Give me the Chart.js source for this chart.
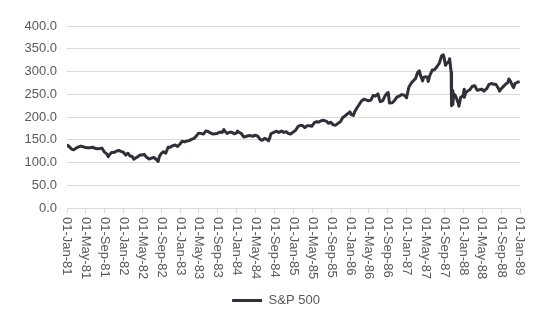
<!DOCTYPE html>
<html>
<head>
<meta charset="utf-8">
<script src="https://cdn.jsdelivr.net/npm/chart.js@4"></script>
<style>
  body { margin: 0; background: #ffffff; }
  #wrap { width: 550px; height: 330px; }
</style>
</head>
<body>
<div id="wrap"><canvas id="spxChart" width="550" height="330"></canvas></div>
<script>
// S&P 500 closes (roughly twice a month)
const dates = [
  '1981-01-02','1981-01-06','1981-01-15','1981-01-30','1981-02-13','1981-02-27','1981-03-13','1981-03-31','1981-04-15','1981-04-30','1981-05-15','1981-05-29','1981-06-15','1981-06-30','1981-07-15','1981-07-31','1981-08-14','1981-08-31','1981-09-15','1981-09-25','1981-09-30','1981-10-15','1981-10-30','1981-11-13','1981-11-30','1981-12-15','1981-12-31',
  '1982-01-15','1982-01-29','1982-02-12','1982-02-26','1982-03-08','1982-03-15','1982-03-31','1982-04-15','1982-04-30','1982-05-14','1982-05-28','1982-06-15','1982-06-30','1982-07-15','1982-07-30','1982-08-12','1982-08-20','1982-08-31','1982-09-15','1982-09-30','1982-10-15','1982-10-29','1982-11-15','1982-11-30','1982-12-15','1982-12-31',
  '1983-01-14','1983-01-31','1983-02-15','1983-02-28','1983-03-15','1983-03-31','1983-04-15','1983-04-29','1983-05-13','1983-05-31','1983-06-15','1983-06-30','1983-07-15','1983-07-29','1983-08-15','1983-08-31','1983-09-15','1983-09-30','1983-10-10','1983-10-14','1983-10-31','1983-11-15','1983-11-30','1983-12-15','1983-12-30',
  '1984-01-06','1984-01-13','1984-01-31','1984-02-15','1984-02-29','1984-03-15','1984-03-30','1984-04-13','1984-04-30','1984-05-15','1984-05-31','1984-06-15','1984-06-29','1984-07-13','1984-07-24','1984-08-01','1984-08-08','1984-08-15','1984-08-31','1984-09-14','1984-09-28','1984-10-15','1984-10-31','1984-11-15','1984-11-30','1984-12-14','1984-12-31',
  '1985-01-15','1985-01-31','1985-02-15','1985-02-28','1985-03-15','1985-03-29','1985-04-15','1985-04-30','1985-05-15','1985-05-31','1985-06-14','1985-06-28','1985-07-15','1985-07-31','1985-08-15','1985-08-30','1985-09-13','1985-09-30','1985-10-15','1985-10-31','1985-11-15','1985-11-29','1985-12-13','1985-12-31',
  '1986-01-08','1986-01-22','1986-01-31','1986-02-14','1986-02-28','1986-03-14','1986-03-31','1986-04-15','1986-04-30','1986-05-15','1986-05-30','1986-06-13','1986-06-30','1986-07-08','1986-07-15','1986-07-31','1986-08-15','1986-08-29','1986-09-04','1986-09-12','1986-09-30','1986-10-15','1986-10-31','1986-11-14','1986-11-28','1986-12-15','1986-12-31',
  '1987-01-15','1987-01-23','1987-01-30','1987-02-13','1987-02-27','1987-03-13','1987-03-24','1987-03-31','1987-04-14','1987-04-20','1987-04-30','1987-05-15','1987-05-20','1987-05-29','1987-06-15','1987-06-30','1987-07-15','1987-07-31','1987-08-14','1987-08-25','1987-08-31','1987-09-08','1987-09-15','1987-09-30','1987-10-05','1987-10-15','1987-10-16','1987-10-19','1987-10-21','1987-10-26','1987-10-30','1987-11-13','1987-11-30','1987-12-04','1987-12-15','1987-12-31',
  '1988-01-07','1988-01-08','1988-01-15','1988-01-29','1988-02-12','1988-02-29','1988-03-15','1988-03-31','1988-04-15','1988-04-29','1988-05-13','1988-05-31','1988-06-15','1988-06-30','1988-07-15','1988-07-29','1988-08-15','1988-08-22','1988-08-31','1988-09-15','1988-09-30','1988-10-14','1988-10-21','1988-10-31','1988-11-15','1988-11-21','1988-11-30','1988-12-15','1988-12-30'
];

const closes = [
  136.3,138.1,134.8,129.6,127.8,131.3,133.9,136.0,134.7,132.8,132.2,132.6,133.6,131.2,130.3,130.9,131.6,122.8,118.9,112.8,116.2,122.0,121.9,124.3,126.4,124.4,122.6,
  116.3,120.4,114.1,113.1,107.3,109.0,112.0,116.4,116.4,118.0,111.9,107.6,109.6,111.1,107.1,102.4,113.0,119.5,123.8,120.4,133.6,133.7,137.0,138.5,135.2,140.6,
  146.7,145.3,147.4,148.1,150.8,153.0,158.1,164.4,164.0,162.4,169.1,168.1,165.0,162.6,163.0,164.4,167.0,166.1,172.6,169.9,163.6,166.5,166.4,163.3,164.9,
  169.3,167.0,163.4,156.1,157.1,158.9,159.2,157.7,160.1,158.0,150.6,149.0,153.2,150.9,147.8,154.1,162.7,164.4,166.7,168.8,166.1,169.0,166.1,167.6,163.6,162.7,167.2,
  170.8,179.6,181.6,181.2,176.5,180.7,180.9,179.8,187.4,189.6,189.0,191.9,192.7,190.9,186.1,188.6,182.9,182.1,186.1,189.8,199.1,202.2,206.3,211.3,
  205.2,203.5,211.8,219.8,226.9,234.7,238.9,237.7,235.5,237.0,247.4,245.7,250.8,241.0,233.7,236.1,247.1,252.9,253.8,230.7,231.3,236.3,244.0,245.8,249.2,248.2,242.2,
  265.5,270.1,274.1,279.7,284.2,298.2,301.6,291.7,279.2,286.9,288.4,287.4,278.2,290.1,303.1,304.0,310.4,318.7,334.0,336.8,329.8,313.6,317.1,321.8,328.1,298.1,282.7,224.8,258.4,227.7,251.8,245.6,230.3,223.9,242.8,247.1,
  261.1,243.4,252.1,257.1,259.8,267.8,268.7,258.9,259.8,261.3,256.8,262.2,271.6,273.5,272.0,272.0,262.5,257.1,261.5,266.8,271.9,275.5,283.7,279.0,267.7,264.6,273.7,276.3,277.7
];

const tickLabels = [
  '01-Jan-81','01-May-81','01-Sep-81','01-Jan-82','01-May-82','01-Sep-82','01-Jan-83','01-May-83','01-Sep-83',
  '01-Jan-84','01-May-84','01-Sep-84','01-Jan-85','01-May-85','01-Sep-85','01-Jan-86','01-May-86','01-Sep-86',
  '01-Jan-87','01-May-87','01-Sep-87','01-Jan-88','01-May-88','01-Sep-88','01-Jan-89'
];

const seriesName = 'S&P 500';

// helpers
const months = ['Jan','Feb','Mar','Apr','May','Jun','Jul','Aug','Sep','Oct','Nov','Dec'];
function tickToTime(lbl) {
    const parts = lbl.split('-');
    return Date.UTC(1900 + Number(parts[2]), months.indexOf(parts[1]), Number(parts[0]));
}
const tickTimes = tickLabels.map(tickToTime);
const points = dates.map((d, i) => ({ x: Date.parse(d), y: closes[i] }));

const GREY = '#595959';
const FONT = '"Liberation Sans", Arial, sans-serif';

// x labels read top-to-bottom, so draw them ourselves at the scale's pixels
const downLabels = {
    id: 'downLabels',
    afterLayout(chart) {
        // centre the legend under the plot rather than under the whole canvas
        chart.legend.left += 32;
    },
    afterDraw(chart) {
        const xs = chart.scales.x;
        const ctx = chart.ctx;
        ctx.save();
        ctx.font = '13px ' + FONT;
        ctx.fillStyle = GREY;
        ctx.textAlign = 'left';
        ctx.textBaseline = 'middle';
        tickLabels.forEach((lbl, i) => {
            const px = xs.getPixelForValue(tickTimes[i]);
            ctx.save();
            ctx.translate(px, xs.top + 9);
            ctx.rotate(Math.PI / 2);
            ctx.fillText(lbl, 0, 0);
            ctx.restore();
        });
        ctx.restore();
    }
};

new Chart(document.getElementById('spxChart'), {
    type: 'line',
    data: {
        datasets: [{
            label: seriesName,
            data: points,
            borderColor: '#30303a',
            backgroundColor: '#30303a',
            borderWidth: 3,
            pointRadius: 0,
            tension: 0,
            borderJoinStyle: 'round'
        }]
    },
    options: {
        responsive: false,
        animation: false,
        layout: { padding: { top: 26, right: 30, bottom: 13, left: 0 } },
        scales: {
            x: {
                type: 'linear',
                min: tickTimes[0],
                max: tickTimes[tickTimes.length - 1],
                afterBuildTicks: s => { s.ticks = tickTimes.map(v => ({ value: v })); },
                afterFit: s => { s.height = 76; },
                ticks: { display: false },
                grid: { drawOnChartArea: false, drawTicks: true, tickLength: 5, color: '#d9d9d9' },
                border: { color: '#d9d9d9' }
            },
            y: {
                min: 0,
                max: 400,
                afterFit: s => { s.width = 67; },
                ticks: {
                    stepSize: 50,
                    padding: 10,
                    color: GREY,
                    font: { family: FONT, size: 13 },
                    callback: v => v.toFixed(1)
                },
                grid: { color: '#d9d9d9', drawTicks: false },
                border: { display: false }
            }
        },
        plugins: {
            legend: {
                position: 'bottom',
                labels: {
                    usePointStyle: true,
                    pointStyle: 'line',
                    pointStyleWidth: 30,
                    boxWidth: 27,
                    color: GREY,
                    font: { family: FONT, size: 13 }
                }
            },
            tooltip: { enabled: false }
        }
    },
    plugins: [downLabels]
});
</script>
</body>
</html>
